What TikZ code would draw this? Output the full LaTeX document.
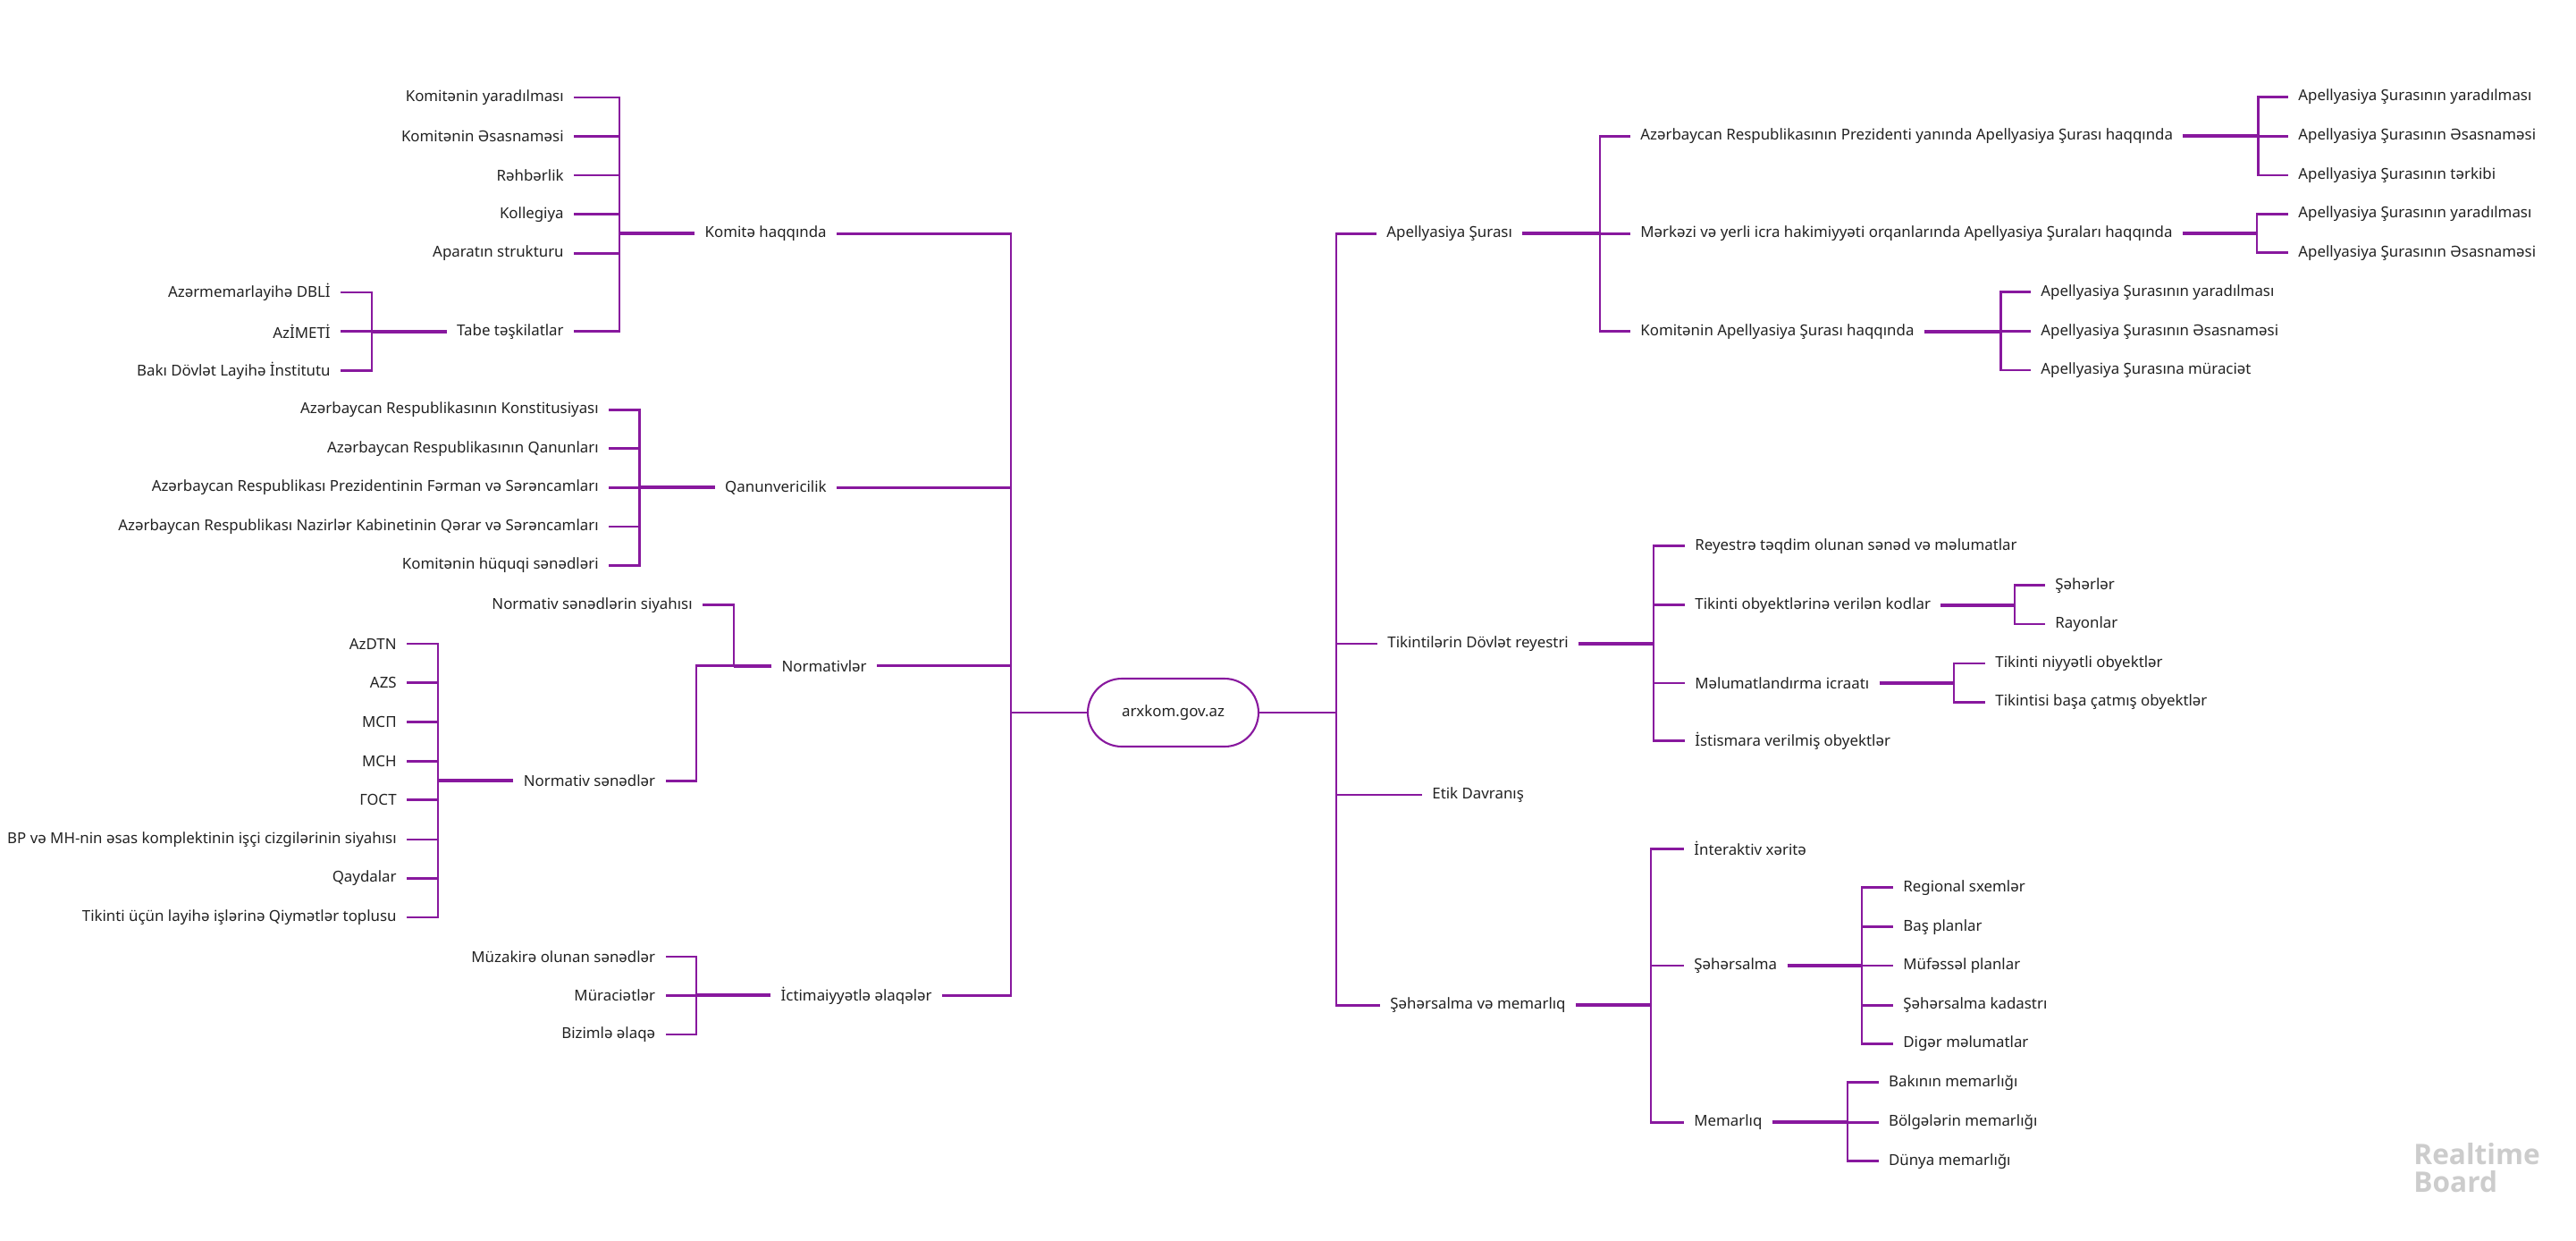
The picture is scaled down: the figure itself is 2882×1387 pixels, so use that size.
\documentclass[tikz,border=0pt]{standalone}
\usepackage{fontspec}
\setmainfont{Noto Sans}
\newfontfamily\brandfont{Open Sans}
\usepackage{xcolor}
\usepackage{tikz}
\usetikzlibrary{positioning}
\definecolor{branch}{RGB}{136,24,158}
\definecolor{ink}{RGB}{34,34,34}

\begin{document}
\begin{tikzpicture}[x=0.02cm,y=-0.02cm,
  lf/.style={anchor=east,inner xsep=0.22cm,inner ysep=0.05cm,
    font=\fontsize{9.6}{11}\selectfont,text=ink},
  rt/.style={lf,anchor=west},
  root/.style={draw=branch,line width=1.2pt,rounded corners=0.76cm,
    minimum width=3.82cm,minimum height=1.52cm,
    font=\fontsize{9.6}{11}\selectfont,text=ink},
  br/.style={branch,line width=1.4pt},
  jn/.style={branch,line width=2.2pt},
]
  \useasboundingbox (0,0) rectangle (2882,1387);

  % centre
  \node[root] (site) at (1312.5,797) {arxkom.gov.az};
  \coordinate (jL) at (1131,797);
  \coordinate (jR) at (1495,797);
  \draw[br] (site.west) -- (jL);
  \draw[br] (site.east) -- (jR);

  % left half
  \node[lf] (komite) at (936,261.3) {Komitə haqqında};
  \node[lf] (qanun) at (936,545.3) {Qanunvericilik};
  \node[lf] (norm) at (981,744.7) {Normativlər};
  \node[lf] (ictim) at (1054,1113.3) {İctimaiyyətlə əlaqələr};
  \draw[br] (jL) |- (komite.east);
  \draw[br] (jL) |- (qanun.east);
  \draw[br] (jL) |- (norm.east);
  \draw[br] (jL) |- (ictim.east);

  \coordinate (jKom) at (693,261.3);
  \node[lf] (kYar) at (642,109) {Komitənin yaradılması};
  \node[lf] (kEsas) at (642,152.3) {Komitənin Əsasnaməsi};
  \node[lf] (kRehb) at (642,196) {Rəhbərlik};
  \node[lf] (kKoll) at (642,239.7) {Kollegiya};
  \node[lf] (kApar) at (642,283.3) {Aparatın strukturu};
  \node[lf] (kTabe) at (642,370.7) {Tabe təşkilatlar};
  \draw[jn] (komite.west) -- (jKom);
  \draw[br] (jKom) |- (kYar.east);
  \draw[br] (jKom) |- (kEsas.east);
  \draw[br] (jKom) |- (kRehb.east);
  \draw[br] (jKom) |- (kKoll.east);
  \draw[br] (jKom) |- (kApar.east);
  \draw[br] (jKom) |- (kTabe.east);

  \coordinate (jTabe) at (416,370.7);
  \node[lf] (tDbli) at (381,327) {Azərmemarlayihə DBLİ};
  \node[lf] (tAzi) at (381,370.7) {AzİMETİ};
  \node[lf] (tBaki) at (381,414.3) {Bakı Dövlət Layihə İnstitutu};
  \draw[jn] (kTabe.west) -- (jTabe);
  \draw[br] (jTabe) |- (tDbli.east);
  \draw[br] (jTabe) |- (tAzi.east);
  \draw[br] (jTabe) |- (tBaki.east);

  \coordinate (jQan) at (715.6,545.3);
  \node[lf] (qKons) at (681,458.3) {Azərbaycan Respublikasının Konstitusiyası};
  \node[lf] (qQan) at (681,501.7) {Azərbaycan Respublikasının Qanunları};
  \node[lf] (qPrez) at (681,545.3) {Azərbaycan Respublikası Prezidentinin Fərman və Sərəncamları};
  \node[lf] (qNaz) at (681,589) {Azərbaycan Respublikası Nazirlər Kabinetinin Qərar və Sərəncamları};
  \node[lf] (qHuq) at (681,632.3) {Komitənin hüquqi sənədləri};
  \draw[jn] (qanun.west) -- (jQan);
  \draw[br] (jQan) |- (qKons.east);
  \draw[br] (jQan) |- (qQan.east);
  \draw[br] (jQan) |- (qPrez.east);
  \draw[br] (jQan) |- (qNaz.east);
  \draw[br] (jQan) |- (qHuq.east);

  \coordinate (jNorm) at (821,744.7);
  \coordinate (jNorm2) at (779,744.7);
  \node[lf] (nSiy) at (786,676.7) {Normativ sənədlərin siyahısı};
  \node[lf] (nSen) at (744.5,873.3) {Normativ sənədlər};
  \draw[jn] (norm.west) -- (jNorm);
  \draw[br] (jNorm) |- (nSiy.east);
  \draw[br] (jNorm) -- (jNorm2) |- (nSen.east);

  \coordinate (jSen) at (490,873.3);
  \node[lf] (sDtn) at (455,720) {AzDTN};
  \node[lf] (sAzs) at (455,763.7) {AZS};
  \node[lf] (sMsp) at (455,807.7) {МСП};
  \node[lf] (sMsn) at (455,851.3) {МСН};
  \node[lf] (sGost) at (455,894.7) {ГОСТ};
  \node[lf] (sBp) at (455,939) {BP və MH-nin əsas komplektinin işçi cizgilərinin siyahısı};
  \node[lf] (sQayd) at (455,982.3) {Qaydalar};
  \node[lf] (sQiy) at (455,1026) {Tikinti üçün layihə işlərinə Qiymətlər toplusu};
  \draw[jn] (nSen.west) -- (jSen);
  \draw[br] (jSen) |- (sDtn.east);
  \draw[br] (jSen) |- (sAzs.east);
  \draw[br] (jSen) |- (sMsp.east);
  \draw[br] (jSen) |- (sMsn.east);
  \draw[br] (jSen) |- (sGost.east);
  \draw[br] (jSen) |- (sBp.east);
  \draw[br] (jSen) |- (sQayd.east);
  \draw[br] (jSen) |- (sQiy.east);

  \coordinate (jIct) at (779,1113.3);
  \node[lf] (iMuz) at (744.5,1070) {Müzakirə olunan sənədlər};
  \node[lf] (iMur) at (744.5,1113.3) {Müraciətlər};
  \node[lf] (iBiz) at (744.5,1157) {Bizimlə əlaqə};
  \draw[jn] (ictim.west) -- (jIct);
  \draw[br] (jIct) |- (iMuz.east);
  \draw[br] (jIct) |- (iMur.east);
  \draw[br] (jIct) |- (iBiz.east);

  % right half
  \node[rt] (apel) at (1540,261.3) {Apellyasiya Şurası};
  \node[rt] (reyes) at (1541,720) {Tikintilərin Dövlət reyestri};
  \node[rt] (etik) at (1591,889) {Etik Davranış};
  \node[rt] (sehmem) at (1544,1124.3) {Şəhərsalma və memarlıq};
  \draw[br] (jR) |- (apel.west);
  \draw[br] (jR) |- (reyes.west);
  \draw[br] (jR) |- (etik.west);
  \draw[br] (jR) |- (sehmem.west);

  \coordinate (jApel) at (1790,261.3);
  \node[rt] (aPrez) at (1824,152.3) {Azərbaycan Respublikasının Prezidenti yanında Apellyasiya Şurası haqqında};
  \node[rt] (aMerk) at (1824,261.3) {Mərkəzi və yerli icra hakimiyyəti orqanlarında Apellyasiya Şuraları haqqında};
  \node[rt] (aKom) at (1824,370.7) {Komitənin Apellyasiya Şurası haqqında};
  \draw[jn] (apel.east) -- (jApel);
  \draw[br] (jApel) |- (aPrez.west);
  \draw[br] (jApel) |- (aMerk.west);
  \draw[br] (jApel) |- (aKom.west);

  \coordinate (jPrez) at (2526.5,152.3);
  \node[rt] (pYar) at (2560,108.3) {Apellyasiya Şurasının yaradılması};
  \node[rt] (pEsas) at (2560,152.3) {Apellyasiya Şurasının Əsasnaməsi};
  \node[rt] (pTerk) at (2560,196) {Apellyasiya Şurasının tərkibi};
  \draw[jn] (aPrez.east) -- (jPrez);
  \draw[br] (jPrez) |- (pYar.west);
  \draw[br] (jPrez) |- (pEsas.west);
  \draw[br] (jPrez) |- (pTerk.west);

  \coordinate (jMerk) at (2525,261.3);
  \node[rt] (mYar) at (2560,239.3) {Apellyasiya Şurasının yaradılması};
  \node[rt] (mEsas) at (2560,282.7) {Apellyasiya Şurasının Əsasnaməsi};
  \draw[jn] (aMerk.east) -- (jMerk);
  \draw[br] (jMerk) |- (mYar.west);
  \draw[br] (jMerk) |- (mEsas.west);

  \coordinate (jAkom) at (2238.5,370.7);
  \node[rt] (cYar) at (2272,326.7) {Apellyasiya Şurasının yaradılması};
  \node[rt] (cEsas) at (2272,370.7) {Apellyasiya Şurasının Əsasnaməsi};
  \node[rt] (cMur) at (2272,414) {Apellyasiya Şurasına müraciət};
  \draw[jn] (aKom.east) -- (jAkom);
  \draw[br] (jAkom) |- (cYar.west);
  \draw[br] (jAkom) |- (cEsas.west);
  \draw[br] (jAkom) |- (cMur.west);

  \coordinate (jRey) at (1850,720);
  \node[rt] (rTeq) at (1885,610.7) {Reyestrə təqdim olunan sənəd və məlumatlar};
  \node[rt] (rKod) at (1885,676.7) {Tikinti obyektlərinə verilən kodlar};
  \node[rt] (rIcr) at (1885,764) {Məlumatlandırma icraatı};
  \node[rt] (rIst) at (1885,828.3) {İstismara verilmiş obyektlər};
  \draw[jn] (reyes.east) -- (jRey);
  \draw[br] (jRey) |- (rTeq.west);
  \draw[br] (jRey) |- (rKod.west);
  \draw[br] (jRey) |- (rIcr.west);
  \draw[br] (jRey) |- (rIst.west);

  \coordinate (jKod) at (2254,676.7);
  \node[rt] (kSeh) at (2288,654.7) {Şəhərlər};
  \node[rt] (kRay) at (2288,698) {Rayonlar};
  \draw[jn] (rKod.east) -- (jKod);
  \draw[br] (jKod) |- (kSeh.west);
  \draw[br] (jKod) |- (kRay.west);

  \coordinate (jIcr) at (2186,764);
  \node[rt] (iNiy) at (2221,742) {Tikinti niyyətli obyektlər};
  \node[rt] (iBas) at (2221,785.3) {Tikintisi başa çatmış obyektlər};
  \draw[jn] (rIcr.east) -- (jIcr);
  \draw[br] (jIcr) |- (iNiy.west);
  \draw[br] (jIcr) |- (iBas.west);

  \coordinate (jSm) at (1847,1124.3);
  \node[rt] (sInt) at (1884,949.3) {İnteraktiv xəritə};
  \node[rt] (sSeh) at (1884,1080) {Şəhərsalma};
  \node[rt] (sMem) at (1884,1255.3) {Memarlıq};
  \draw[jn] (sehmem.east) -- (jSm);
  \draw[br] (jSm) |- (sInt.west);
  \draw[br] (jSm) |- (sSeh.west);
  \draw[br] (jSm) |- (sMem.west);

  \coordinate (jSeh) at (2083,1080);
  \node[rt] (hReg) at (2118,992.7) {Regional sxemlər};
  \node[rt] (hBas) at (2118,1036.7) {Baş planlar};
  \node[rt] (hMuf) at (2118,1080) {Müfəssəl planlar};
  \node[rt] (hKad) at (2118,1124.3) {Şəhərsalma kadastrı};
  \node[rt] (hDig) at (2118,1167.3) {Digər məlumatlar};
  \draw[jn] (sSeh.east) -- (jSeh);
  \draw[br] (jSeh) |- (hReg.west);
  \draw[br] (jSeh) |- (hBas.west);
  \draw[br] (jSeh) |- (hMuf.west);
  \draw[br] (jSeh) |- (hKad.west);
  \draw[br] (jSeh) |- (hDig.west);

  \coordinate (jMem) at (2067,1255.3);
  \node[rt] (mBak) at (2101.7,1210.7) {Bakının memarlığı};
  \node[rt] (mBol) at (2101.7,1255.3) {Bölgələrin memarlığı};
  \node[rt] (mDun) at (2101.7,1298.7) {Dünya memarlığı};
  \draw[jn] (sMem.east) -- (jMem);
  \draw[br] (jMem) |- (mBak.west);
  \draw[br] (jMem) |- (mBol.west);
  \draw[br] (jMem) |- (mDun.west);

  % watermark
  \node[anchor=north west,inner sep=0,align=left,text=black!20,
    font=\brandfont\bfseries\fontsize{18}{17.6}\selectfont] (brand) at (2700,1278) {Realtime\\Board};
\end{tikzpicture}
\end{document}
